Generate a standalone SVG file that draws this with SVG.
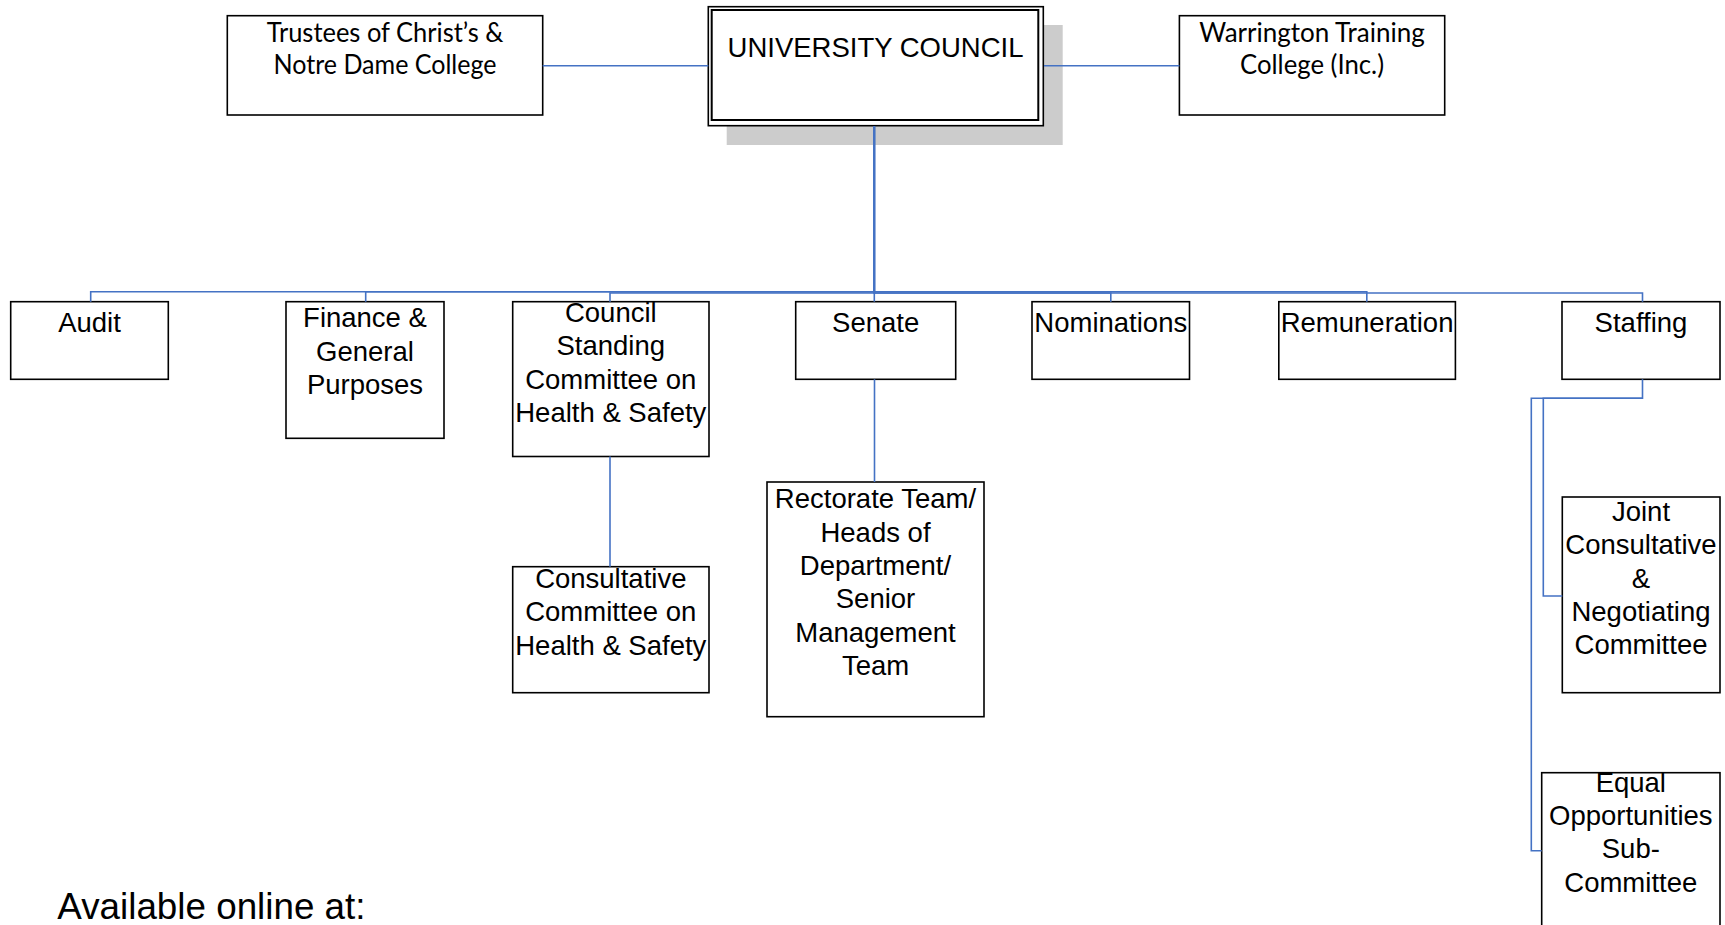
<svg xmlns="http://www.w3.org/2000/svg" width="1725" height="925" viewBox="0 0 1725 925">
<style>
.box{fill:#fff;stroke:#000;stroke-width:1.6}
.conn{fill:none;stroke:#4472C4;stroke-width:1.6}
.t{font-family:"Liberation Sans",Arial,sans-serif;font-size:27.5px;text-anchor:middle;fill:#000}
.c{font-family:Lato,"Open Sans",sans-serif;font-size:26px;text-anchor:middle;fill:#000}
</style>
<rect width="1725" height="925" fill="#fff"/>
<g id="trustees">
<rect class="box" x="227.3" y="15.7" width="315.4" height="99.3"/>
<text class="c" x="385" y="41.7" textLength="236.7" lengthAdjust="spacingAndGlyphs">Trustees of Christ’s &amp;</text>
<text class="c" x="385" y="74" textLength="223" lengthAdjust="spacingAndGlyphs">Notre Dame College</text>
</g>
<g id="university-council">
<rect x="726.7" y="25" width="336" height="120" fill="#cccccc"/>
<rect class="box" x="708.3" y="6.7" width="335" height="119" stroke-width="1.4"/>
<rect x="711.7" y="10" width="326.6" height="110" fill="none" stroke="#000" stroke-width="2"/>
<text class="t" x="875.5" y="57.3">UNIVERSITY COUNCIL</text>
</g>
<g id="warrington">
<rect class="box" x="1179.4" y="15.7" width="265.3" height="99.3"/>
<text class="c" x="1312" y="41.7" textLength="225.6" lengthAdjust="spacingAndGlyphs">Warrington Training</text>
<text class="c" x="1312" y="74" textLength="144" lengthAdjust="spacingAndGlyphs">College (Inc.)</text>
</g>
<g id="audit">
<rect class="box" x="10.7" y="301.7" width="157.6" height="77.6"/>
<text class="t" x="89.5" y="331.7">Audit</text>
</g>
<g id="finance">
<rect class="box" x="286" y="301.7" width="158" height="136.6"/>
<text class="t" x="365" y="327.3">Finance &amp;</text>
<text class="t" x="365" y="360.6">General</text>
<text class="t" x="365" y="393.9">Purposes</text>
</g>
<g id="council-standing">
<rect class="box" x="512.7" y="301.7" width="196.3" height="154.8"/>
<text class="t" x="610.8" y="322">Council</text>
<text class="t" x="610.8" y="355.3">Standing</text>
<text class="t" x="610.8" y="388.6">Committee on</text>
<text class="t" x="610.8" y="421.9">Health &amp; Safety</text>
</g>
<g id="consultative">
<rect class="box" x="512.7" y="566.7" width="196.3" height="126"/>
<text class="t" x="610.8" y="588">Consultative</text>
<text class="t" x="610.8" y="621.3">Committee on</text>
<text class="t" x="610.8" y="654.6">Health &amp; Safety</text>
</g>
<g id="senate">
<rect class="box" x="795.7" y="301.7" width="160" height="77.6"/>
<text class="t" x="875.7" y="331.7">Senate</text>
</g>
<g id="rectorate">
<rect class="box" x="767" y="482" width="217" height="234.7"/>
<text class="t" x="875.5" y="508.3">Rectorate Team/</text>
<text class="t" x="875.5" y="541.6">Heads of</text>
<text class="t" x="875.5" y="574.9">Department/</text>
<text class="t" x="875.5" y="608.2">Senior</text>
<text class="t" x="875.5" y="641.5">Management</text>
<text class="t" x="875.5" y="674.8">Team</text>
</g>
<g id="nominations">
<rect class="box" x="1032" y="301.7" width="157.5" height="77.6"/>
<text class="t" x="1110.8" y="331.7">Nominations</text>
</g>
<g id="remuneration">
<rect class="box" x="1278.8" y="301.7" width="176.6" height="77.6"/>
<text class="t" x="1367.1" y="331.7">Remuneration</text>
</g>
<g id="staffing">
<rect class="box" x="1562" y="301.7" width="158" height="77.6"/>
<text class="t" x="1641" y="331.7">Staffing</text>
</g>
<g id="joint-consultative">
<rect class="box" x="1562.3" y="497" width="157.7" height="195.7"/>
<text class="t" x="1641" y="521">Joint</text>
<text class="t" x="1641" y="554.3">Consultative</text>
<text class="t" x="1641" y="587.6">&amp;</text>
<text class="t" x="1641" y="620.9">Negotiating</text>
<text class="t" x="1641" y="654.2">Committee</text>
</g>
<g id="equal-opportunities">
<rect class="box" x="1541.7" y="772.7" width="178.3" height="156"/>
<text class="t" x="1630.8" y="791.7">Equal</text>
<text class="t" x="1630.8" y="825">Opportunities</text>
<text class="t" x="1630.8" y="858.3">Sub-</text>
<text class="t" x="1630.8" y="891.6">Committee</text>
</g>
<g id="connectors">
<path class="conn" d="M542.7,65.7 H708.3"/>
<path class="conn" d="M1044,65.7 H1179.4"/>
<path class="conn" d="M874.3,126.4 V291.7 H90.7 V301.7"/>
<path class="conn" d="M874.3,126.4 V291.7 H365.7 V301.7"/>
<path class="conn" d="M874.3,126.4 V293 H610 V301.7"/>
<path class="conn" d="M874.3,126.4 V301.7"/>
<path class="conn" d="M874.3,126.4 V293 H1110.8 V301.7"/>
<path class="conn" d="M874.3,126.4 V291.7 H1366.8 V301.7"/>
<path class="conn" d="M874.3,126.4 V293 H1642.5 V301.7"/>
<path class="conn" d="M610,456.5 V566.7"/>
<path class="conn" d="M874.5,379.3 V482"/>
<path class="conn" d="M1642.5,379.3 V398.3 H1543.3 V596 H1562.3"/>
<path class="conn" d="M1642.5,398.3 H1531.3 V850.7 H1541.7"/>
</g>
<text x="57.3" y="919.3" style="font-family:'Liberation Sans',Arial,sans-serif;font-size:36.8px;fill:#000">Available online at:</text>
</svg>
